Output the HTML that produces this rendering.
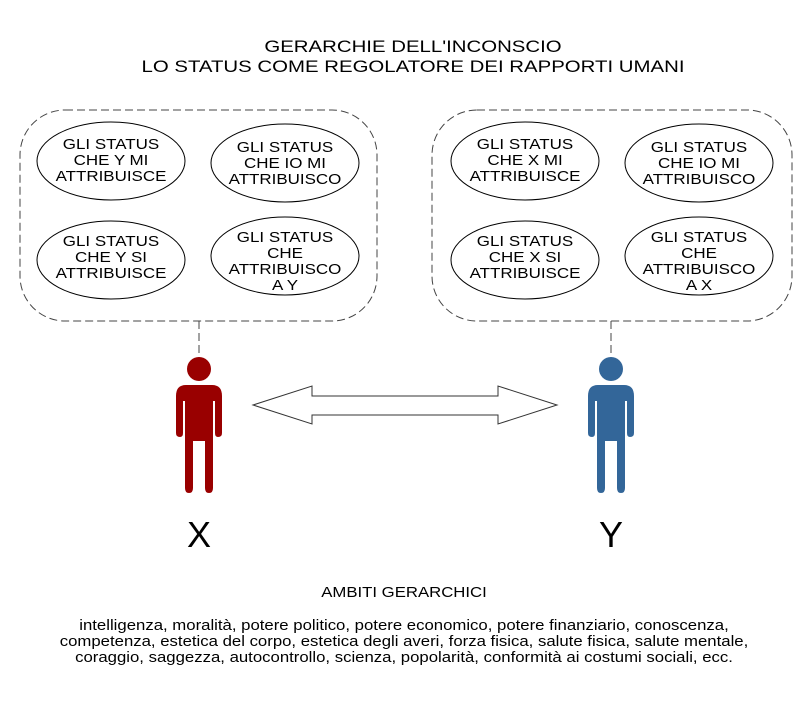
<!DOCTYPE html>
<html><head><meta charset="utf-8"><style>
body{margin:0;background:#fff;}
svg{display:block;font-family:"Liberation Sans",Arial,sans-serif;}
</style></head><body>
<svg width="810" height="706" viewBox="0 0 810 706">
<g transform="translate(413,0) scale(1.2,1)" font-size="17" text-anchor="middle" fill="#000">
<text x="0" y="52">GERARCHIE DELL'INCONSCIO</text>
<text x="0" y="72">LO STATUS COME REGOLATORE DEI RAPPORTI UMANI</text>
</g>
<g fill="none" stroke="#444" stroke-width="1" stroke-dasharray="8,4">
<rect x="20" y="110" width="357" height="211" rx="45"/>
<rect x="432" y="110" width="360" height="211" rx="45"/>
<line x1="199" y1="321" x2="199" y2="360"/>
<line x1="611" y1="321" x2="611" y2="360"/>
</g>
<g fill="#fff" stroke="#000" stroke-width="1">
<ellipse cx="111" cy="161" rx="74" ry="39"/>
<ellipse cx="285" cy="163" rx="74" ry="39"/>
<ellipse cx="111" cy="260" rx="74" ry="39"/>
<ellipse cx="285" cy="256" rx="74" ry="39"/>
<ellipse cx="525" cy="161" rx="74" ry="39"/>
<ellipse cx="699" cy="163" rx="74" ry="39"/>
<ellipse cx="525" cy="260" rx="74" ry="39"/>
<ellipse cx="699" cy="256" rx="74" ry="39"/>
</g>
<g font-size="14.5" text-anchor="middle" fill="#000">
<g transform="translate(111,0) scale(1.17,1)"><text x="0" y="149">GLI STATUS</text><text x="0" y="165">CHE Y MI</text><text x="0" y="181">ATTRIBUISCE</text></g>
<g transform="translate(285,0) scale(1.17,1)"><text x="0" y="152">GLI STATUS</text><text x="0" y="168">CHE IO MI</text><text x="0" y="184">ATTRIBUISCO</text></g>
<g transform="translate(111,0) scale(1.17,1)"><text x="0" y="246">GLI STATUS</text><text x="0" y="262">CHE Y SI</text><text x="0" y="278">ATTRIBUISCE</text></g>
<g transform="translate(285,0) scale(1.17,1)"><text x="0" y="242">GLI STATUS</text><text x="0" y="258">CHE</text><text x="0" y="274">ATTRIBUISCO</text><text x="0" y="290">A Y</text></g>
<g transform="translate(525,0) scale(1.17,1)"><text x="0" y="149">GLI STATUS</text><text x="0" y="165">CHE X MI</text><text x="0" y="181">ATTRIBUISCE</text></g>
<g transform="translate(699,0) scale(1.17,1)"><text x="0" y="152">GLI STATUS</text><text x="0" y="168">CHE IO MI</text><text x="0" y="184">ATTRIBUISCO</text></g>
<g transform="translate(525,0) scale(1.17,1)"><text x="0" y="246">GLI STATUS</text><text x="0" y="262">CHE X SI</text><text x="0" y="278">ATTRIBUISCE</text></g>
<g transform="translate(699,0) scale(1.17,1)"><text x="0" y="242">GLI STATUS</text><text x="0" y="258">CHE</text><text x="0" y="274">ATTRIBUISCO</text><text x="0" y="290">A X</text></g>
</g>
<polygon points="253,405 312,386 312,396 498,396 498,386 557,405 498,424 498,415 312,415 312,424" fill="#fff" stroke="#333" stroke-width="1"/>
<defs>
<g id="p">
<circle cx="0" cy="369" r="12"/>
<path d="M-13,385 H13 Q23,385 23,396 V433 Q23,437 19,437 Q16,437 16,433 V401 H14 V488 Q14,493 10,493 Q6,493 6,488 V441 H-6 V488 Q-6,493 -10,493 Q-14,493 -14,488 V401 H-16 V433 Q-16,437 -19,437 Q-23,437 -23,433 V396 Q-23,385 -13,385 Z"/>
</g>
</defs>
<use href="#p" x="199" fill="#990000"/>
<use href="#p" x="611" fill="#336699"/>
<text x="199" y="547" font-size="36" text-anchor="middle" fill="#000">X</text>
<text x="611" y="547" font-size="36" text-anchor="middle" fill="#000">Y</text>
<g transform="translate(404,0) scale(1.155,1)" font-size="14.5" text-anchor="middle" fill="#000">
<text x="0" y="597">AMBITI GERARCHICI</text>
<text x="0" y="630">intelligenza, moralità, potere politico, potere economico, potere finanziario, conoscenza,</text>
<text x="0" y="646">competenza, estetica del corpo, estetica degli averi, forza fisica, salute fisica, salute mentale,</text>
<text x="0" y="662">coraggio, saggezza, autocontrollo, scienza, popolarità, conformità ai costumi sociali, ecc.</text>
</g>
</svg>
</body></html>
